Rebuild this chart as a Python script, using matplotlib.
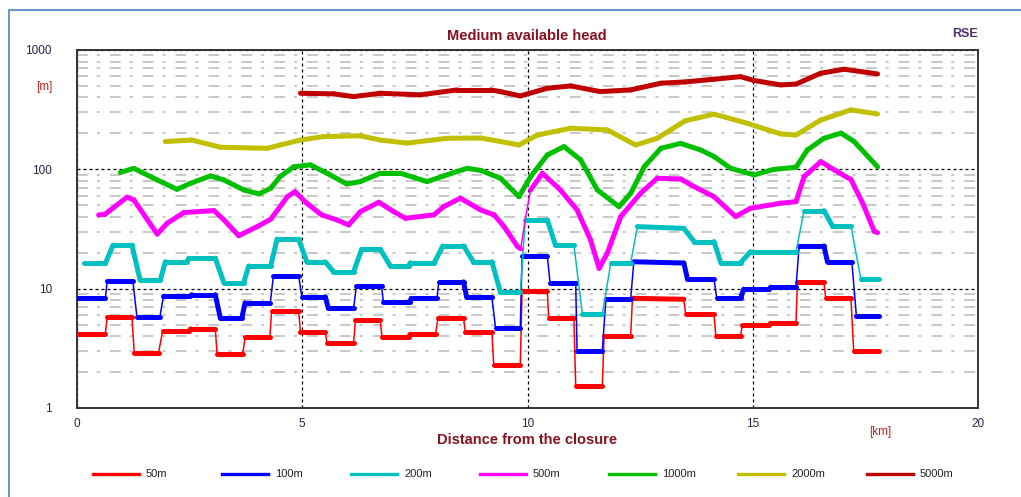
#!/usr/bin/env python3
"""Medium available head — log-scale head curves along distance from the closure."""
import matplotlib
matplotlib.use("Agg")
import matplotlib.pyplot as plt
from matplotlib.collections import LineCollection
from matplotlib.lines import Line2D
from matplotlib.ticker import LogLocator, NullFormatter
import numpy as np

plt.rcParams["font.family"] = ["Liberation Sans", "DejaVu Sans"]

# ---- data (km, m) ----
x_50 = [0, 0.63, 0.67, 1.22, 1.27, 1.81, 1.90, 2.48, 2.52, 3.07, 3.11, 3.68, 3.73, 4.28,
        4.32, 4.92, 4.96, 5.51, 5.55, 6.14, 6.18, 6.73, 6.77, 7.36, 7.40, 7.96, 8.01, 8.58,
        8.62, 9.21, 9.25, 9.84, 9.88, 10.44, 10.47, 11.03, 11.07, 11.66, 11.70, 12.29,
        12.33, 13.47, 13.51, 14.14, 14.18, 14.73, 14.77, 15.36, 15.40, 15.96, 15.99, 16.58,
        16.62, 17.18, 17.24, 17.81]
y_50 = [4.2, 4.2, 5.8, 5.8, 2.9, 2.9, 4.4, 4.4, 4.6, 4.6, 2.85, 2.85, 3.9, 3.9,
        6.5, 6.5, 4.35, 4.35, 3.5, 3.5, 5.45, 5.45, 3.95, 3.95, 4.15, 4.15, 5.65, 5.65,
        4.3, 4.3, 2.3, 2.3, 9.6, 9.6, 5.65, 5.65, 1.53, 1.53, 4.05, 4.05,
        8.3, 8.15, 6.1, 6.1, 4.05, 4.05, 4.95, 4.95, 5.13, 5.13, 11.3, 11.3,
        8.3, 8.3, 3.0, 3.0]

x_100 = [0, 0.63, 0.67, 1.24, 1.33, 1.84, 1.92, 2.51, 2.55, 3.07, 3.18, 3.66, 3.73, 4.29,
         4.36, 4.92, 4.99, 5.51, 5.58, 6.14, 6.20, 6.76, 6.80, 7.39, 7.42, 7.99, 8.03, 8.58,
         8.65, 9.21, 9.29, 9.84, 9.88, 10.44, 10.50, 11.07, 11.10, 11.66, 11.74, 12.29,
         12.36, 13.47, 13.55, 14.14, 14.20, 14.73, 14.80, 15.36, 15.40, 15.96, 16.03, 16.58,
         16.66, 17.20, 17.30, 17.81]
y_100 = [8.3, 8.3, 11.6, 11.6, 5.8, 5.8, 8.7, 8.7, 8.9, 8.9, 5.7, 5.7, 7.6, 7.6,
         12.8, 12.8, 8.55, 8.55, 6.85, 6.85, 10.5, 10.5, 7.8, 7.8, 8.3, 8.3, 11.4, 11.4,
         8.45, 8.45, 4.7, 4.7, 18.8, 18.8, 11.2, 11.2, 3.0, 3.0, 8.15, 8.15,
         16.8, 16.4, 12.1, 12.1, 8.3, 8.3, 9.9, 9.9, 10.3, 10.3, 22.8, 22.8,
         16.7, 16.7, 5.95, 5.95]

x_200 = [0.15, 0.63, 0.80, 1.22, 1.40, 1.85, 1.96, 2.44, 2.48, 3.07, 3.26, 3.70, 3.81, 4.30,
         4.44, 4.92, 5.10, 5.51, 5.69, 6.14, 6.32, 6.73, 6.95, 7.36, 7.40, 7.93, 8.12, 8.58,
         8.80, 9.21, 9.40, 9.84, 9.95, 10.44, 10.62, 11.03, 11.22, 11.66, 11.85, 12.29,
         12.44, 13.47, 13.70, 14.14, 14.29, 14.73, 14.95, 15.96, 16.14, 16.58, 16.77, 17.18,
         17.40, 17.81]
y_200 = [16.3, 16.3, 23.2, 23.2, 11.8, 11.8, 16.8, 16.8, 18.0, 18.0, 11.2, 11.2, 15.5, 15.5,
         26.0, 26.0, 16.8, 16.8, 13.9, 13.9, 21.4, 21.4, 15.6, 15.6, 16.5, 16.5, 22.8, 22.8,
         16.8, 16.8, 9.3, 9.3, 37.7, 37.7, 23.2, 23.2, 6.1, 6.1, 16.5, 16.5,
         33.1, 32.0, 24.8, 24.8, 16.5, 16.5, 20.4, 20.4, 45.1, 45.1, 33.5, 33.5,
         12.0, 12.0]

x_500 = [0.48, 0.62, 1.11, 1.26, 1.78, 2.0, 2.37, 3.04, 3.26, 3.59, 4.0, 4.3, 4.67, 4.84,
         5.1, 5.43, 5.77, 6.03, 6.29, 6.7, 7.03, 7.29, 7.92, 8.14, 8.51, 8.96, 9.26, 9.48,
         9.78, 9.85, 9.96, 10.07, 10.33, 10.73, 11.1, 11.4, 11.59, 11.77, 12.07, 12.51,
         12.88, 13.4, 13.7, 14.14, 14.62, 14.95, 15.62, 15.96, 16.14, 16.51, 16.81, 17.18,
         17.44, 17.7, 17.77]
y_500 = [41.5, 42, 58.4, 55.5, 28.7, 35.3, 43.4, 45.1, 37.7, 27.8, 33.1, 38.2, 59.0, 65.0,
         52.0, 41.5, 37.7, 34.2, 44.2, 53.0, 44.2, 38.9, 41.5, 48.7, 57.3, 45.7, 41.5, 33.1,
         22.5, 21.6, 40.2, 67.2, 92.7, 67.2, 45.7, 25.6, 14.8, 19.8, 40.2, 63.0,
         84.2, 83.0, 71.6, 59.0, 40.2, 47.2, 52.0, 53.6, 86.9, 116, 98.9, 82,
         52, 30.1, 29.5]

x_1000 = [0.96, 1.26, 1.78, 2.22, 2.52, 2.96, 3.26, 3.7, 4.04, 4.3, 4.51, 4.81, 5.18, 5.55,
          5.99, 6.29, 6.73, 7.18, 7.77, 8.21, 8.66, 8.96, 9.4, 9.81, 10.07, 10.44, 10.81,
          11.18, 11.55, 12.03, 12.29, 12.59, 12.96, 13.4, 13.85, 14.14, 14.51, 15.03, 15.47,
          15.96, 16.21, 16.58, 16.96, 17.25, 17.77]
y_1000 = [94, 102, 81.5, 68, 76.4, 88, 81.5, 67.2, 62.2, 69.5, 86.9, 105, 109, 92.7,
          75.4, 78.9, 92.7, 92.7, 78.9, 89.8, 102, 98, 84.2, 59.0, 86.9, 132, 155,
          120, 67.2, 48.7, 63, 105, 150, 165, 145, 128, 102, 89.8, 100,
          104, 145, 182, 201, 171, 105]

x_2000 = [1.96, 2.55, 3.19, 4.22, 4.51, 4.96, 5.47, 6.29, 6.73, 7.33, 8.21, 8.96, 9.4, 9.81,
          10.22, 10.96, 11.77, 12.4, 12.88, 13.5, 14.14, 14.88, 15.62, 15.96, 16.51, 17.18,
          17.77]
y_2000 = [171, 176, 153, 150, 160, 176, 188, 191, 176, 166, 182, 183, 171, 160,
          194, 221, 214, 160, 182, 255, 290, 243, 198, 194, 259, 315,
          291]

x_5000 = [4.96, 5.7, 6.14, 6.73, 7.62, 8.44, 9.18, 9.4, 9.84, 10.44, 10.96, 11.62, 12.29,
          12.96, 13.5, 14.14, 14.73, 15.03, 15.62, 15.96, 16.51, 17.03, 17.77]
y_5000 = [434, 429, 407, 434, 421, 463, 463, 448, 412, 478, 500, 448, 463,
          527, 540, 569, 598, 555, 510, 518, 639, 690, 630]

SERIES = [
    ("50m",   x_50,   y_50,   "#FF0000"),
    ("100m",  x_100,  y_100,  "#0000FF"),
    ("200m",  x_200,  y_200,  "#00C0C0"),
    ("500m",  x_500,  y_500,  "#FF00FF"),
    ("1000m", x_1000, y_1000, "#00C000"),
    ("2000m", x_2000, y_2000, "#C0C000"),
    ("5000m", x_5000, y_5000, "#C00000"),
]

x_ticks = [0, 5, 10, 15, 20]
y_ticks = [1, 10, 100, 1000]

W, H = 1021, 497
TICK_COLOR = "#24244a"
LABEL_RED = "#8B1020"


def draw_series(ax, x, y, color):
    # flat parts thick, near-vertical jumps thin (like the original renderer)
    pts = ax.transData.transform(np.column_stack([x, y]))
    d = np.diff(pts, axis=0)
    steep = np.abs(d[:, 1]) > 5 * np.abs(d[:, 0])
    segs = [[(x[i], y[i]), (x[i + 1], y[i + 1])] for i in range(len(x) - 1)]
    lws = np.where(steep, 1.1, 3.6)
    lc = LineCollection(segs, colors=color, linewidths=lws,
                        capstyle="round", joinstyle="round", zorder=3)
    ax.add_collection(lc)


def main():
    fig = plt.figure(figsize=(W / 100, H / 100), dpi=100)
    ax = fig.add_axes([77 / W, 1 - 408 / H, (978 - 77) / W, (408 - 50) / H])

    ax.set_yscale("log")
    ax.set_xlim(0, 20)
    ax.set_ylim(1, 1000)
    ax.set_axisbelow(True)

    ax.set_xticks(x_ticks)
    ax.set_xticklabels([str(v) for v in x_ticks])
    ax.set_yticks(y_ticks)
    ax.set_yticklabels([str(v) for v in y_ticks])
    ax.yaxis.set_minor_locator(LogLocator(base=10, subs=range(2, 10)))
    ax.yaxis.set_minor_formatter(NullFormatter())
    ax.tick_params(which="both", length=0)
    ax.tick_params(axis="y", pad=18, labelsize=8.5, labelcolor=TICK_COLOR)
    ax.tick_params(axis="x", pad=7, labelsize=8.5, labelcolor=TICK_COLOR)

    for sp in ax.spines.values():
        sp.set_linewidth(1.4)
        sp.set_color("#333333")

    ax.grid(which="minor", axis="y", color="#C4C4C4", lw=1.3, dashes=(6, 5, 1.7, 5.5))
    ax.grid(which="major", axis="both", color="black", lw=0.9, dashes=(2.4, 2.4))

    for name, x, y, color in SERIES:
        draw_series(ax, x, y, color)

    # texts
    fig.text(0.516, 0.928, "Medium available head", ha="center", va="center",
             fontsize=10.5, fontweight="bold", color=LABEL_RED)
    fig.text(965 / W, 1 - 34 / H, "RSE", ha="center", va="center",
             fontsize=9, fontweight="bold", color="#4B2E6B")
    fig.text(44 / W, 1 - 87 / H, "[m]", ha="center", va="center",
             fontsize=8.5, color="#D02020")
    fig.text(880 / W, 1 - 432 / H, "[km]", ha="center", va="center",
             fontsize=8.5, color="#D02020")
    fig.text(0.516, 1 - 440 / H, "Distance from the closure", ha="center", va="center",
             fontsize=10.5, fontweight="bold", color=LABEL_RED)

    # legend row
    ly = 1 - 474 / H
    for i, (name, x, y, color) in enumerate(SERIES):
        x0 = (93 + 129 * i) / W
        fig.add_artist(Line2D([x0, x0 + 46 / W], [ly, ly], transform=fig.transFigure,
                              color=color, lw=2.4))
        fig.text(x0 + 53 / W, ly, name, ha="left", va="center", fontsize=8,
                 color="#222222")

    # panel border (left + top)
    fig.add_artist(Line2D([9 / W, 9 / W, 1.0], [0.0, 1 - 10 / H, 1 - 10 / H],
                          transform=fig.transFigure, color="#4F81BD", lw=1.2))

    fig.savefig("out.png", dpi=100)
    plt.close(fig)


if __name__ == "__main__":
    main()
